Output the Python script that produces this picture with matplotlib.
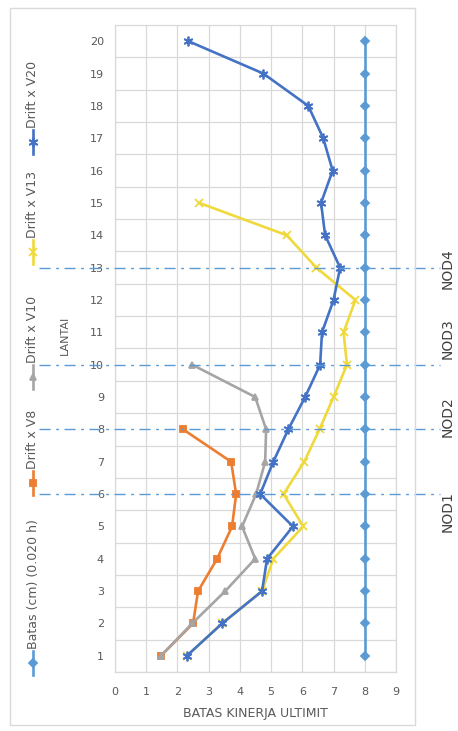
import matplotlib.pyplot as plt
from matplotlib.lines import Line2D
from matplotlib.patches import Rectangle
import matplotlib.transforms as mtransforms

# data per lantai (floor)
lantai = list(range(1, 21))
batas = [8.0] * 20  # 0.020 h
drift_v8 = [1.47, 2.5, 2.66, 3.27, 3.75, 3.88, 3.72, 2.18]
drift_v10 = [1.47, 2.47, 3.53, 4.49, 4.07, 4.52, 4.81, 4.84, 4.49, 2.47]
drift_v13 = [2.3, 3.43, 4.71, 5.07, 6.03, 5.4, 6.06, 6.55, 7.0, 7.43,
             7.32, 7.7, 6.45, 5.5, 2.7]
drift_v20 = [2.3, 3.43, 4.71, 4.87, 5.7, 4.65, 5.07, 5.55, 6.09, 6.57,
             6.63, 7.0, 7.21, 6.73, 6.6, 6.97, 6.67, 6.19, 4.75, 2.35]

nod_lantai = [6, 8, 10, 13]
nod_names = ['NOD1', 'NOD2', 'NOD3', 'NOD4']
nod_label_pos = [5.46, 8.38, 10.8, 12.97]

series = [
    ('Batas (cm) (0.020 h)', batas, '#5B9BD5', 'D', 4),
    ('Drift x V8', drift_v8, '#ED7D31', 's', 5),
    ('Drift x V10', drift_v10, '#A5A5A5', '^', 5),
    ('Drift x V13', drift_v13, '#EFD93C', 'x', 6),
    ('Drift x V20', drift_v20, '#4472C4', (6, 2, 0), 7),
]

W, H = 458, 731
fig = plt.figure(figsize=(W / 100, H / 100), dpi=100)
fig.patch.set_facecolor('white')

# chart area border
fig.patches.append(Rectangle((10 / W, 1 - 725 / H), 405 / W, 717 / H,
                             transform=fig.transFigure, fill=False,
                             edgecolor='#D9D9D9', linewidth=1.0))

ax = fig.add_axes([115 / W, 1 - 672 / H, 281 / W, 647 / H])
ax.set_xlim(0, 9)
ax.set_ylim(0.5, 20.5)
ax.set_xticks(range(0, 10))
ax.set_yticks(lantai)
ax.set_yticks([v + 0.5 for v in range(0, 20)], minor=True)
ax.grid(True, which='major', axis='x', color='#D9D9D9', linewidth=0.9)
ax.grid(True, which='minor', axis='y', color='#D9D9D9', linewidth=0.9)
ax.tick_params(which='both', length=0, labelsize=8, labelcolor='#595959')
ax.tick_params(axis='y', pad=8)
ax.tick_params(axis='x', pad=11)
for s in ax.spines.values():
    s.set_color('#D9D9D9')
    s.set_linewidth(0.9)

for name, vals, color, mk, ms in series:
    ax.plot(vals, lantai[:len(vals)], color=color, linewidth=1.9,
            marker=mk, markersize=ms, markeredgewidth=1.3, zorder=3)

# NOD boundary lines reaching outside the plot
trans = mtransforms.blended_transform_factory(ax.transAxes, ax.transData)
for f in nod_lantai:
    ax.plot([-0.27, 1.157], [f, f], transform=trans, color='#5B9BD5',
            linestyle=(0, (8, 4, 2, 4)), linewidth=1.0, clip_on=False,
            zorder=4)
for name, f in zip(nod_names, nod_label_pos):
    ax.text(448 / W, f, name, transform=mtransforms.blended_transform_factory(
        fig.transFigure, ax.transData), rotation=90, ha='center',
        va='center', fontsize=10, color='#404040')

fig.text(255 / W, 1 - 713 / H, 'BATAS KINERJA ULTIMIT', ha='center',
         va='center', fontsize=9, color='#595959')
fig.text(65 / W, 1 - 335 / H, 'LANTAI', rotation=90, ha='center',
         va='center', fontsize=8, color='#595959')

# vertical legend on the left side
leg_marker_y = [663, 483, 377, 252, 142]
for (name, vals, color, mk, ms), my in zip(series, leg_marker_y):
    x = 33 / W
    fig.lines.append(Line2D([x, x], [1 - (my + 12) / H, 1 - (my - 12) / H],
                            transform=fig.transFigure, color=color,
                            linewidth=1.9))
    fig.lines.append(Line2D([x], [1 - my / H], transform=fig.transFigure,
                            color=color, marker=mk, markersize=ms,
                            markeredgewidth=1.3, linestyle='none'))
    fig.text(x, 1 - (my - 14) / H, name, rotation=90, ha='center',
             va='bottom', fontsize=9, color='#595959')

fig.savefig('out.png', dpi=100)
